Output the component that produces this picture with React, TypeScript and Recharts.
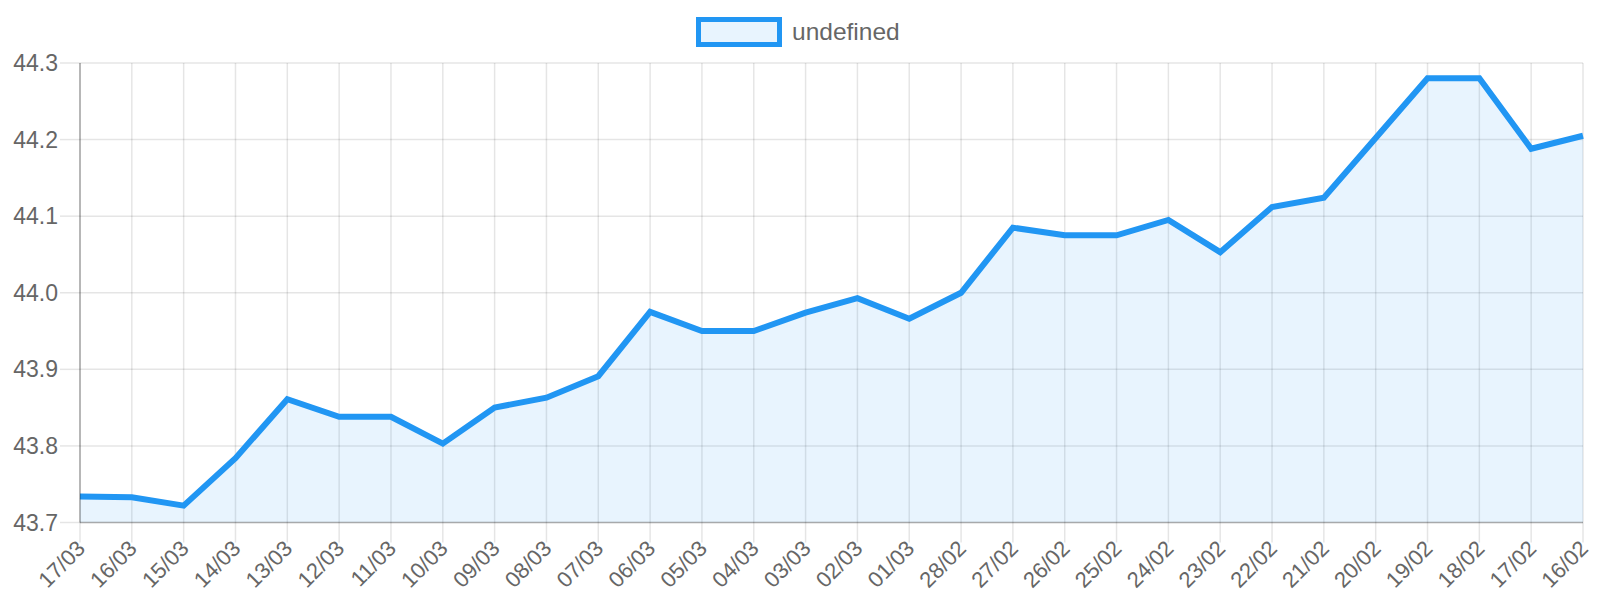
import React from 'react';
import { AreaChart, Area, XAxis, YAxis, CartesianGrid } from 'recharts';

const dates = [
  '17/03', '16/03', '15/03', '14/03', '13/03', '12/03', '11/03', '10/03', '09/03', '08/03',
  '07/03', '06/03', '05/03', '04/03', '03/03', '02/03', '01/03', '28/02', '27/02', '26/02',
  '25/02', '24/02', '23/02', '22/02', '21/02', '20/02', '19/02', '18/02', '17/02', '16/02',
];

const values = [
  43.734, 43.733, 43.722, 43.784, 43.861, 43.838, 43.838, 43.803, 43.85, 43.863,
  43.891, 43.975, 43.95, 43.95, 43.974, 43.993, 43.966, 44.0, 44.085, 44.075,
  44.075, 44.095, 44.053, 44.112, 44.124, 44.202, 44.28, 44.28, 44.188, 44.205,
];

const yTicks = [43.7, 43.8, 43.9, 44.0, 44.1, 44.2, 44.3];

const seriesLabel = 'undefined';

const BLUE = '#2196f3';
const FILL = 'rgba(33,150,243,0.1)';
const GRID = 'rgba(0,0,0,0.1)';
const TEXT = '#666';
const FONT = '"Liberation Sans", Arial, Helvetica, sans-serif';

const data = dates.map((d, i) => ({ date: d, value: values[i] }));

// rotated date labels, right end sits at the tick mark
const DateTick = ({ x, y, payload }: any) => (
  <g transform={`translate(${x + 1},${y + 2}) rotate(-45)`}>
    <text textAnchor="end" dy="0.35em" fill={TEXT} fontSize={22} fontFamily={FONT}>
      {payload.value}
    </text>
  </g>
);

const App: React.FC = () => {
  return (
    <div style={{ position: 'relative', width: 1600, height: 600, fontFamily: FONT }}>
      <style>{'body{margin:0}'}</style>
      <div
        style={{
          position: 'absolute',
          top: 17,
          left: 696,
          display: 'flex',
          alignItems: 'center',
          height: 30,
        }}
      >
        <div
          style={{
            boxSizing: 'border-box',
            width: 86,
            height: 30,
            border: `5.5px solid ${BLUE}`,
            background: FILL,
          }}
        />
        <span style={{ marginLeft: 10, fontSize: 24.5, color: TEXT }}>{seriesLabel}</span>
      </div>
      <AreaChart width={1600} height={600} data={data} margin={{ top: 63, right: 17, left: 0, bottom: 0 }}>
        <XAxis
          dataKey="date"
          interval={0}
          height={77.5}
          tickSize={20}
          tickMargin={0}
          tickLine={{ stroke: GRID, strokeWidth: 1.5 }}
          axisLine={{ stroke: 'rgba(0,0,0,0.25)', strokeWidth: 1.5 }}
          tick={<DateTick />}
        />
        <YAxis
          domain={[43.7, 44.3]}
          ticks={yTicks}
          width={80}
          tickSize={20}
          tickMargin={2}
          tickFormatter={(v: number) => v.toFixed(1)}
          tickLine={{ stroke: GRID, strokeWidth: 1.5 }}
          axisLine={{ stroke: 'rgba(0,0,0,0.3)', strokeWidth: 1.5 }}
          tick={{ fill: TEXT, fontSize: 23, fontFamily: FONT }}
          allowDataOverflow
        />
        <Area
          type="linear"
          dataKey="value"
          name={seriesLabel}
          stroke="none"
          fill={BLUE}
          fillOpacity={0.1}
          dot={false}
          activeDot={false}
          isAnimationActive={false}
        />
        {/* grid over the fill so it shows darker inside the shaded area */}
        <CartesianGrid stroke={GRID} strokeWidth={1.5} />
        <Area
          type="linear"
          dataKey="value"
          name={seriesLabel}
          stroke={BLUE}
          strokeWidth={6}
          strokeLinejoin="miter"
          fill="none"
          dot={false}
          activeDot={false}
          isAnimationActive={false}
        />
      </AreaChart>
    </div>
  );
};

export default App;
